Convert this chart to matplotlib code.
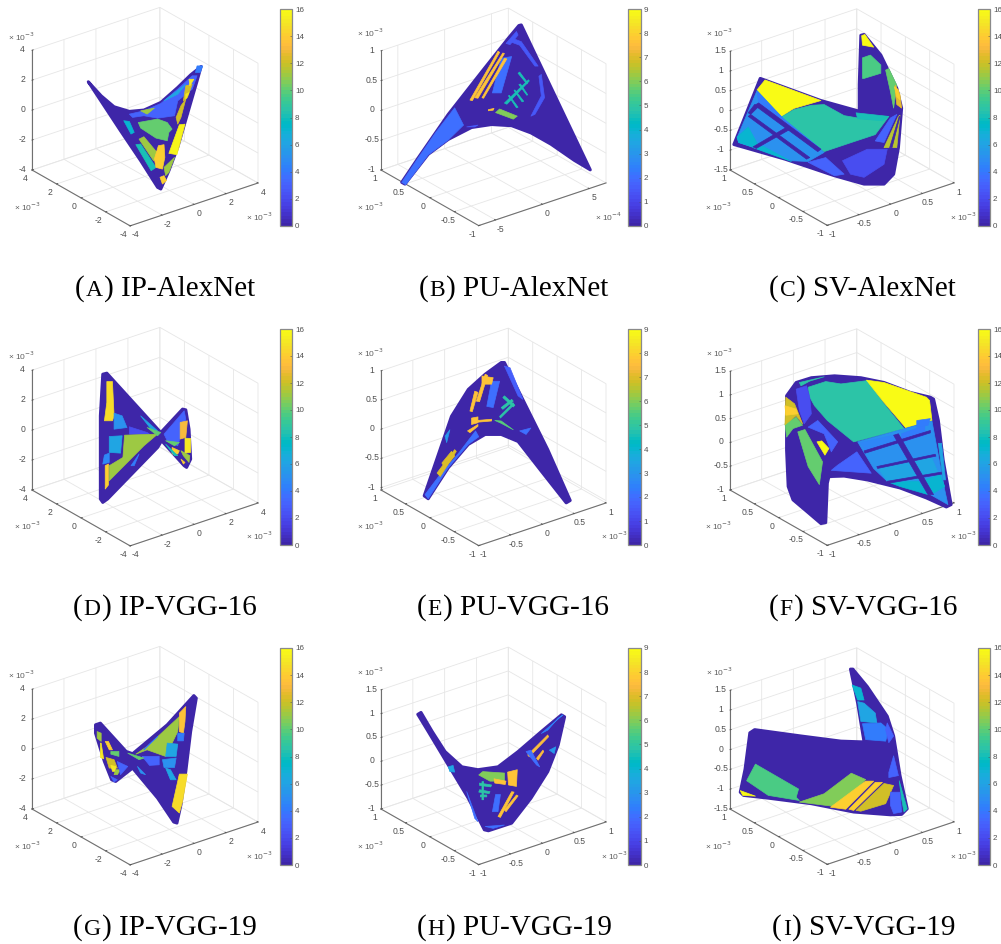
import matplotlib
matplotlib.use('Agg')
import matplotlib.pyplot as plt
from matplotlib.cm import ScalarMappable
from matplotlib.colors import ListedColormap, Normalize
from mpl_toolkits.mplot3d import proj3d
from mpl_toolkits.mplot3d.art3d import Poly3DCollection

plt.rcParams['font.family'] = ['Liberation Sans', 'DejaVu Sans']

WIDTH, HEIGHT = 1001, 944

PARULA = ListedColormap([
    (.2422, .1504, .6603), (.2504, .1650, .7076), (.2578, .1818, .7511), (.2647, .1978, .7952),
    (.2706, .2147, .8364), (.2751, .2342, .8710), (.2783, .2559, .8991), (.2803, .2782, .9221),
    (.2813, .3006, .9414), (.2810, .3228, .9579), (.2795, .3447, .9717), (.2760, .3667, .9829),
    (.2699, .3892, .9906), (.2602, .4123, .9952), (.2440, .4358, .9988), (.2206, .4603, .9973),
    (.1963, .4847, .9892), (.1834, .5074, .9798), (.1786, .5289, .9682), (.1764, .5499, .9520),
    (.1687, .5703, .9359), (.1540, .5902, .9218), (.1460, .6091, .9079), (.1380, .6276, .8973),
    (.1248, .6459, .8883), (.1113, .6635, .8763), (.0952, .6798, .8598), (.0689, .6948, .8394),
    (.0297, .7082, .8163), (.0036, .7203, .7917), (.0067, .7312, .7660), (.0433, .7411, .7394),
    (.0964, .7500, .7120), (.1408, .7584, .6842), (.1717, .7670, .6554), (.1938, .7758, .6251),
    (.2161, .7843, .5923), (.2470, .7918, .5567), (.2906, .7973, .5188), (.3406, .8008, .4789),
    (.3909, .8029, .4354), (.4456, .8024, .3909), (.5044, .7993, .3480), (.5616, .7942, .3045),
    (.6174, .7876, .2612), (.6720, .7793, .2227), (.7242, .7698, .1910), (.7738, .7598, .1646),
    (.8203, .7498, .1535), (.8634, .7406, .1596), (.9035, .7330, .1774), (.9393, .7288, .2100),
    (.9728, .7298, .2394), (.9956, .7434, .2371), (.9970, .7659, .2199), (.9952, .7893, .2028),
    (.9892, .8136, .1885), (.9786, .8386, .1766), (.9676, .8639, .1643), (.9610, .8890, .1537),
    (.9597, .9135, .1423), (.9628, .9373, .1265), (.9691, .9606, .1064), (.9769, .9839, .0805),
])

# each region: class label, then (position across the view, z in 1e-3 units)
IP_ALEXNET = [
    (0, [(-.71, 2.36), (-.55, 1.42), (-.39, .69), (-.20, .38), (-.02, .47), (.19, .98), (.40, 1.98), (.56, 2.82),
         (.69, 3.38), (.64, 2.42), (.52, .20), (.40, -2.02), (.29, -3.58), (.19, -4.80), (.15, -4.69), (-.06, -2.91),
         (-.31, -.91)]),
    (3, [(-.20, .20), (-.02, .42), (.19, .91), (.40, 1.87), (.58, 2.76), (.64, 2.76), (.58, 1.87), (.40, 1.09),
         (.36, .09), (.15, -.07), (-.02, .09), (-.16, -.02)]),
    (7, [(-.27, -.24), (-.20, -.29), (-.14, -1.02), (-.18, -1.13)]),
    (10, [(-.09, -.36), (.15, -.13), (.27, -.36), (.33, -.80), (.29, -1.02), (.27, -1.58), (.13, -1.40), (-.06, -.73)]),
    (11, [(-.08, -1.47), (-.02, -1.31), (.16, -2.47), (.10, -2.91)]),
    (8, [(-.12, -1.84), (-.06, -1.80), (.13, -3.36), (.07, -3.58)]),
    (14, [(.16, -1.91), (.23, -1.84), (.24, -2.69), (.21, -3.47), (.13, -3.36), (.11, -2.80)]),
    (14, [(.18, -4.02), (.23, -3.91), (.26, -4.24), (.21, -4.47)]),
    (11, [(.23, -3.36), (.36, -2.69), (.29, -3.69), (.25, -3.91)]),
    (15.5, [(.42, -.51), (.49, -.47), (.39, -2.51), (.29, -2.42)]),
    (12, [(.44, .76), (.50, 1.20), (.44, -.02), (.40, -.47), (.38, -.02)]),
    (12, [(.50, 2.09), (.58, 2.2), (.52, 1.31), (.47, 1.09)]),
    (15, [(.54, 2.53), (.60, 2.53), (.55, 2.09)]),
    (15, [(.50, 1.53), (.54, 1.64), (.50, 1.20)]),
    (6, [(.23, 1.09), (.50, 2.2), (.40, 1.53)]),
    (11, [(-.06, .42), (.11, .60), (.02, .2)]),
    (4, [(.64, 3.42), (.71, 3.42), (.68, 2.98), (.62, 2.98)]),
]

PU_ALEXNET = [
    (0, [(.34, 1.55), (1.20, -.88), (1.00, -.72), (.71, -.45), (.46, -.26), (.22, -.14), (-.03, -.12), (-.28, -.17),
         (-.57, -.37), (-.82, -.62), (-1.11, -1.12), (-1.15, -1.09), (-.94, -.67), (-.57, .05), (-.15, .77),
         (.18, 1.33), (.31, 1.54)]),
    (2, [(-.49, .16), (-.38, -.13), (-.57, -.38), (-.82, -.63), (-1.10, -1.13), (-1.15, -1.09), (-.94, -.67),
         (-.73, -.26)]),
    (2, [(.09, .99), (.22, 1.02), (.09, .41), (-.02, .41)]),
    (6, [(.07, .14), (.29, .02), (.24, -.03), (.02, .08)]),
    (7.6, [(-.30, .29), (.05, 1.11), (.07, 1.09), (-.27, .28)]),
    (7.6, [(-.24, .33), (.11, 1.08), (.13, 1.07), (-.20, .32)]),
    (7.6, [(-.15, .33), (.13, .99), (.16, .98), (-.13, .32)]),
    (4.6, [(.13, .24), (.43, .63), (.44, .61), (.16, .22)]),
    (4.6, [(.18, .36), (.19, .37), (.30, .17), (.28, .16)]),
    (4.6, [(.25, .45), (.26, .46), (.37, .27), (.35, .26)]),
    (4.6, [(.31, .55), (.33, .56), (.42, .38), (.41, .37)]),
    (4.6, [(.30, .74), (.32, .76), (.42, .58), (.41, .56)]),
    (1.5, [(.22, 1.33), (.34, 1.27), (.55, .86), (.51, .86), (.32, 1.21), (.20, 1.27)]),
    (1.5, [(.59, .72), (.63, .33), (.51, .05), (.46, .02), (.59, .36), (.56, .69)]),
    (1.5, [(-.34, -.16), (-.20, -.13), (-.24, -.16)]),
    (1.5, [(.15, 1.24), (.28, 1.44), (.30, 1.38), (.20, 1.22)]),
    (7.6, [(-.07, .13), (0, .15), (-.01, .12), (-.07, .11)]),
]

SV_ALEXNET = [
    (0, [(-1.03, .99), (-.27, .43), (.21, .16), (.21, .83), (.23, 2.08), (.27, 2.10), (.48, 1.58), (.68, .74),
         (.74, .24), (.70, -.76), (.64, -1.43), (.52, -1.68), (.27, -1.68), (-.10, -1.47), (-.72, -1.05),
         (-1.36, -.68)]),
    (15.8, [(-.97, .95), (-.27, .43), (-.61, .23), (-.77, .02), (-1.07, .70)]),
    (8.5, [(-.76, .02), (-.61, .20), (-.39, .31), (-.23, .33), (.02, .05), (.31, -.05), (.58, .03), (.41, -.43),
           (.14, -.61), (-.23, -.86), (-.52, -.59)]),
    (15.8, [(.24, 2.07), (.28, 2.10), (.39, 1.78), (.25, 1.83)]),
    (9.5, [(.25, 1.51), (.35, 1.58), (.48, 1.33), (.48, 1.12), (.27, .99), (.25, .99)]),
    (10, [(.54, 1.20), (.58, 1.24), (.68, .82), (.64, .24), (.60, .66)]),
    (12.5, [(.66, .82), (.72, .58), (.74, .24), (.68, .33), (.66, .66)]),
    (14, [(.65, .78), (.70, .70), (.72, .45), (.68, .53)]),
    (11.5, [(.52, -.76), (.70, .03), (.72, .06), (.68, -.76)]),
    (0, [(.59, -.76), (.71, .03), (.72, .03), (.62, -.76)]),
    (5, [(-1.07, .68), (-.74, -.03), (-.23, -.88), (-.43, -1.11), (-.64, -1.09), (-1.05, -.80), (-1.30, -.63),
         (-1.32, -.51), (-1.18, .16)]),
    (7, [(-1.30, -.63), (-1.32, -.49), (-1.18, -.24), (-1.06, -.68), (-1.10, -.76)]),
    (7, [(-.99, -.73), (-.64, -1.11), (-1.12, -.76)]),
    (4, [(-1.07, .66), (-.74, -.03), (-.27, -.80), (-1.05, .37)]),
    (0, [(-1.10, .31), (-1.05, .37), (-.27, -.80), (-.31, -.86)]),
    (0, [(-1.18, .03), (-1.15, .08), (-.41, -1.01), (-.45, -1.05)]),
    (0, [(-1.12, -.74), (-.68, -.22), (-.66, -.30), (-1.08, -.78)]),
    (0, [(-1.10, .33), (-1.18, .12), (-1.15, .08), (-1.05, .28)]),
    (3, [(-.43, -1.13), (-.21, -1.01), (.02, -1.43), (-.10, -1.47)]),
    (2, [(0, -1.09), (.31, -.80), (.56, -.80), (.52, -1.18), (.27, -1.51), (.10, -1.43)]),
    (8, [(.17, .12), (.58, .03), (.50, -.08), (.19, -.03)]),
    (3, [(.41, -.59), (.60, -.01), (.68, .08), (.52, -.63)]),
]

IP_VGG16 = [
    (0, [(-.53, 4.20), (-.48, 4.27), (.19, .31), (.46, 1.87), (.50, 1.82), (.54, .53), (.56, -1.47), (.51, -2.02),
         (.48, -1.91), (.20, -.24), (.15, -.69), (-.47, -4.13), (-.53, -4.36), (-.56, -4.13), (-.56, 1.42)]),
    (14.5, [(-.48, 3.71), (-.41, 3.71), (-.39, 1.42), (-.41, 1.09), (-.51, 1.09), (-.48, 2.31)]),
    (5, [(-.39, 1.60), (-.29, 1.42), (-.23, .64), (-.39, .53)]),
    (2, [(-.20, .69), (.02, .31), (.05, .2), (-.20, .2)]),
    (6, [(-.45, .04), (-.29, .09), (-.31, -1.07), (-.45, -1.02)]),
    (4.5, [(-.51, -1.2), (-.45, -1.07), (-.45, -1.69), (-.53, -1.8)]),
    (11, [(-.26, .13), (.15, .2), (-.02, -.58), (-.45, -2.91), (-.45, -1.91), (-.28, -1.36)]),
    (14, [(-.50, -1.91), (-.46, -1.8), (-.46, -3.2), (-.50, -3.47)]),
    (4, [(-.18, -1.91), (-.08, -1.13), (-.14, -1.91)]),
    (6, [(-.06, 1.42), (.15, .42), (.07, .53)]),
    (10, [(.02, .64), (.19, .31), (.15, .09)]),
    (3, [(.23, .2), (.48, 1.76), (.50, 1.2), (.40, -.58), (.27, -.24)]),
    (13, [(.43, .98), (.52, 1.09), (.50, -.02), (.43, -.13)]),
    (15, [(.49, -.07), (.56, -.09), (.56, -1.02), (.49, -1.07)]),
    (14, [(.33, -.69), (.42, -.91), (.40, -1.13), (.33, -1.13)]),
    (10, [(.25, -.24), (.42, -.36), (.36, -.58)]),
    (8, [(.25, -.47), (.40, -1.24), (.36, -1.24)]),
    (11, [(.44, -.91), (.55, -1.24), (.54, -1.69), (.47, -1.24)]),
    (14, [(.44, -1.47), (.49, -1.69), (.47, -1.8)]),
]

PU_VGG16 = [
    (0, [(.09, 1.26), (.13, 1.26), (.38, .57), (.67, -.23), (.95, -1.10), (.90, -1.14), (.59, -.60), (.30, -.09),
         (.09, .03), (-.11, .03), (-.32, -.14), (-.57, -.54), (-.82, -1.07), (-.87, -1.02), (-.73, -.46), (-.53, .34),
         (-.32, .80), (-.11, 1.06)]),
    (2, [(-.86, -1.00), (-.82, -1.07), (-.57, -.54), (-.32, -.14), (-.19, -.01), (-.23, .09), (-.44, -.29),
         (-.69, -.69)]),
    (2, [(-.03, .94), (.07, .94), (-.01, .49), (-.09, .51)]),
    (7.6, [(-.30, .43), (-.24, .77), (-.20, .75), (-.27, .42)]),
    (7.6, [(-.22, .60), (-.11, 1.06), (-.08, 1.04), (-.18, .59)]),
    (7.6, [(-.15, 1.03), (-.01, 1.0), (-.03, .89), (-.15, .89)]),
    (7.7, [(-.28, .31), (-.20, .33), (-.20, .23), (-.28, .20)]),
    (7.7, [(-.33, .09), (-.20, .20), (-.20, .17), (-.30, .06)]),
    (7.7, [(-.20, .27), (-.03, .29), (-.03, .26), (-.20, .24)]),
    (4.8, [(.07, .34), (.24, .57), (.25, .54), (.08, .31)]),
    (4.8, [(.09, .49), (.22, .63), (.24, .60), (.11, .46)]),
    (4.8, [(.13, .69), (.26, .53), (.24, .50), (.11, .66)]),
    (5.5, [(.01, .27), (.09, .26), (.24, .11), (.09, .22)]),
    (7, [(-.71, -.63), (-.49, -.23), (-.47, -.26), (-.67, -.69)]),
    (7, [(-.65, -.46), (-.53, -.26), (-.49, -.34), (-.61, -.54)]),
    (1.6, [(.13, 1.2), (.20, 1.17), (.36, .63), (.30, .69)]),
    (3, [(-.61, 0), (-.55, .11), (-.59, -.11)]),
    (2, [(.32, .09), (.46, .14), (.40, .03)]),
]

SV_VGG16 = [
    (0, [(-.70, 1.13), (-.58, 1.41), (-.39, 1.51), (-.10, 1.55), (.23, 1.51), (.52, 1.41), (.85, 1.20), (1.10, 1.10),
         (1.14, 1.06), (1.20, .61), (1.26, -.22), (1.36, -1.16), (1.30, -1.21), (1.05, -1.02), (.72, -.81), (.31, -.64),
         (.02, -.56), (-.17, -.57), (-.19, -.71), (-.21, -1.54), (-.27, -1.56), (-.43, -1.33), (-.62, -1.06),
         (-.68, -.78), (-.70, -.01)]),
    (8.5, [(-.43, 1.31), (-.21, 1.43), (-.02, 1.38), (.31, 1.45), (.52, .96), (.77, .44), (.14, .16), (-.19, .61),
           (-.35, .92), (-.41, 1.10)]),
    (8.5, [(-.54, 1.41), (-.23, 1.53), (-.41, 1.44), (-.52, 1.34)]),
    (15.8, [(.30, 1.46), (.52, 1.41), (1.05, 1.10), (1.09, 1.03), (1.12, .61), (.79, .46), (.52, .99)]),
    (5, [(.19, .16), (1.12, .60), (1.28, -.85), (1.32, -1.16), (1.10, -.95), (.56, -.67), (.39, -.40)]),
    (4.5, [(.21, .14), (.64, .30), (.69, .14), (.30, -.03)]),
    (6, [(.45, -.40), (.83, -.27), (.95, -.64), (.56, -.67)]),
    (4, [(.74, .33), (1.03, .51), (1.03, .30), (.74, .16)]),
    (6, [(.85, -.28), (1.11, -.15), (1.20, -.50), (1.01, -.60)]),
    (7, [(.58, -.69), (.95, -.67), (1.07, -.95), (.72, -.78)]),
    (7, [(1.03, -.64), (1.22, -.53), (1.28, -.78), (1.14, -.92)]),
    (4, [(.93, .61), (1.10, .65), (1.07, .51), (.93, .47)]),
    (0, [(.64, .30), (.70, .33), (1.14, -.95), (1.07, -.95)]),
    (0, [(.27, -.03), (1.10, .40), (1.10, .35), (.28, -.08)]),
    (0, [(.43, -.36), (1.16, -.10), (1.17, -.14), (.44, -.40)]),
    (0, [(.56, -.67), (1.26, -.47), (1.27, -.51), (.58, -.71)]),
    (3, [(.18, -.05), (.36, -.50), (-.14, -.44), (-.06, -.33)]),
    (3, [(-.43, .47), (-.31, .61), (-.06, .16), (-.14, -.05), (-.23, .33)]),
    (16, [(-.32, .16), (-.26, .18), (-.17, .02), (-.22, -.12)]),
    (10, [(-.56, .37), (-.47, .42), (-.25, -.26), (-.29, -.74), (-.43, -.36)]),
    (10, [(-.72, .54), (-.58, .68), (-.50, .51), (-.62, .44), (-.70, .26)]),
    (12, [(-.71, 1.10), (-.60, .96), (-.50, .54), (-.58, .71), (-.72, .52)]),
    (14, [(-.72, .92), (-.58, .85), (-.56, .75), (-.71, .72)]),
    (2, [(-.58, 1.27), (-.45, 1.34), (-.41, 1.10), (-.39, .75), (-.48, .54), (-.54, .82)]),
    (6, [(1.20, .13), (1.24, .13), (1.29, -.64), (1.26, -.64)]),
]

IP_VGG19 = [
    (0, [(-.62, 2.09), (-.56, 2.20), (-.24, .31), (-.16, .16), (.27, 2.09), (.60, 4.04), (.63, 3.87), (.56, 1.64),
         (.50, -1.02), (.44, -3.24), (.39, -4.47), (.35, -4.40), (.15, -2.80), (-.16, -.80), (-.37, -1.69),
         (-.42, -1.58), (-.51, -.36), (-.62, 1.53)]),
    (11, [(-.12, .13), (.02, .64), (.42, 2.64), (.40, 1.64), (.25, -.02), (.02, .42)]),
    (13.5, [(.42, 2.87), (.50, 3.31), (.49, 2.31), (.47, 1.53), (.42, 1.64)]),
    (4, [(.40, 1.53), (.48, 1.53), (.47, 1.02), (.40, 1.02)]),
    (6, [(.27, .87), (.40, .80), (.38, -.02), (.25, -.02)]),
    (5, [(.21, -.24), (.38, -.13), (.36, -.76), (.23, -.76)]),
    (3, [(-.04, -.02), (.17, -.02), (.17, -.58), (.05, -.62)]),
    (6, [(.25, -.80), (.31, -.91), (.38, -1.58), (.31, -1.58)]),
    (14.5, [(.42, -1.20), (.52, -1.20), (.46, -3.02), (.42, -3.80), (.33, -3.36)]),
    (10, [(-.22, .2), (-.02, -.13), (-.08, -.24)]),
    (5, [(-.10, -.69), (0, -1.24), (-.06, -1.13)]),
    (4, [(-.02, .42), (.15, 1.31), (.02, .64)]),
    (11, [(-.60, 1.64), (-.55, 1.53), (-.55, .98), (-.60, 1.2)]),
    (15, [(-.56, .87), (-.55, .87), (-.52, -.18), (-.56, -.09)]),
    (14, [(-.50, .98), (-.46, .98), (-.41, .42), (-.45, .42)]),
    (12, [(-.49, -.09), (-.39, -.24), (-.35, -.80), (-.45, -.80)]),
    (10, [(-.43, .31), (-.33, .31), (-.33, -.02), (-.43, .13)]),
    (15, [(-.43, -.62), (-.37, -.69), (-.37, -1.02), (-.41, -1.02)]),
    (11, [(-.37, -.91), (-.31, -.91), (-.35, -1.24), (-.39, -1.24)]),
    (3, [(-.35, -.36), (-.22, -.69), (-.31, -1.24)]),
    (3, [(-.43, -1.36), (-.35, -1.58), (-.39, -1.73)]),
]

PU_VGG19 = [
    (0, [(-.95, 1.13), (-.91, 1.17), (-.77, .77), (-.61, .35), (-.40, .03), (-.20, -.03), (.05, .03), (.30, .35),
         (.59, .77), (.84, 1.12), (.88, 1.08), (.80, .49), (.67, -.07), (.46, -.63), (.22, -1.15), (-.07, -1.31),
         (-.12, -1.29), (-.32, -.63), (-.57, .07), (-.82, .77)]),
    (6, [(-.19, -.14), (-.14, -.07), (.13, -.10), (.13, -.27), (-.05, -.27)]),
    (7.7, [(0, -.22), (.15, -.27), (.14, -.34), (.01, -.31)]),
    (7.7, [(.17, -.08), (.29, -.03), (.28, -.38), (.18, -.35)]),
    (3.5, [(-.57, .03), (-.51, .06), (-.49, -.08), (-.55, -.07)]),
    (4.8, [(-.18, -.31), (-.03, -.35), (-.04, -.39), (-.18, -.36)]),
    (4.8, [(-.18, -.45), (-.05, -.49), (-.06, -.53), (-.19, -.50)]),
    (4.8, [(-.17, -.56), (-.09, -.56), (-.09, -.60), (-.17, -.60)]),
    (4.8, [(-.15, -.28), (-.13, -.28), (-.13, -.66), (-.15, -.66)]),
    (2, [(.02, -.55), (.08, -.55), (.05, -.91), (-.02, -.91)]),
    (7.7, [(.05, -1.01), (.22, -.49), (.25, -.50), (.08, -1.03)]),
    (7.7, [(.13, -.87), (.28, -.56), (.30, -.58), (.15, -.91)]),
    (2, [(-.11, -1.22), (.13, -1.19), (-.01, -1.26)]),
    (2, [(-.34, -.49), (-.20, -1.12), (-.24, -1.05)]),
    (2.5, [(.59, .73), (.86, 1.12), (.80, 1.05), (.67, .80)]),
    (3, [(.69, .38), (.77, .45), (.75, .31)]),
    (7.5, [(.42, .28), (.67, .70), (.68, .66), (.44, .24)]),
    (7.5, [(.53, .21), (.61, .38), (.62, .35), (.55, .17)]),
    (2, [(.40, .35), (.46, .38), (.57, .03), (.53, .07)]),
]

SV_VGG19 = [
    (0, [(.10, 2.21), (.13, 2.21), (.31, 1.77), (.56, 1.02), (.64, .52), (.72, -.48), (.81, -1.32), (.74, -1.46),
         (.60, -1.47), (.14, -1.40), (-.39, -1.19), (-.93, -1.05), (-1.24, -.98), (-1.28, -.90), (-1.22, -.32),
         (-1.16, .60), (-1.10, .68), (-.52, .52), (-.02, .39), (.27, .37), (.19, 1.35)]),
    (7, [(.12, 1.81), (.23, 1.73), (.27, 1.43), (.19, 1.43)]),
    (6, [(.19, 1.39), (.27, 1.35), (.41, 1.10), (.43, .85), (.23, .89)]),
    (4, [(.25, .83), (.48, .85), (.58, .68), (.54, .39), (.29, .43)]),
    (3, [(.56, .85), (.64, .52), (.58, .35), (.54, .68)]),
    (9.5, [(-1.09, -.19), (-.55, -.82), (-.58, -1.03), (-.54, -1.11), (-.93, -.98), (-1.20, -.61)]),
    (10.5, [(.11, -.42), (.29, -.58), (-.02, -1.28), (-.54, -1.15), (-.23, -.94)]),
    (14, [(.29, -.62), (.39, -.62), (.04, -1.33), (-.15, -1.28)]),
    (14, [(.41, -.65), (.50, -.65), (.14, -1.36), (.08, -1.33)]),
    (12, [(.52, -.68), (.64, -.73), (.54, -1.19), (.23, -1.38), (.17, -1.36)]),
    (16, [(-1.28, -.86), (-1.09, -1.0), (-1.25, -.98)]),
    (3, [(.64, .02), (.70, -.48), (.58, -.53), (.58, -.40)]),
    (8, [(.71, -.61), (.81, -1.32), (.77, -1.40), (.74, -1.07)]),
    (3, [(.60, -.90), (.72, -.90), (.74, -1.40), (.64, -1.44), (.60, -1.23)]),
]

# panel letters and names
LETTERS = ['A', 'B', 'C', 'D', 'E', 'F', 'G', 'H', 'I']
NAMES = ['IP-AlexNet', 'PU-AlexNet', 'SV-AlexNet', 'IP-VGG-16', 'PU-VGG-16', 'SV-VGG-16',
         'IP-VGG-19', 'PU-VGG-19', 'SV-VGG-19']
REGIONS = [IP_ALEXNET, PU_ALEXNET, SV_ALEXNET, IP_VGG16, PU_VGG16, SV_VGG16, IP_VGG19, PU_VGG19, SV_VGG19]
CLASS_MAX = [16, 9, 16, 16, 9, 16, 16, 9, 16]

TICKS_4 = [-4, -2, 0, 2, 4]
TICKS_1 = [-1, -.5, 0, .5, 1]
TICKS_15 = [-1.5, -1, -.5, 0, .5, 1, 1.5]
TICKS_1_15 = [-1, -.5, 0, .5, 1, 1.5]
X_LIMS = [4, .68, 1, 4, 1, 1, 4, 1, 1]
Y_LIMS = [4, 1, 1, 4, 1, 1, 4, 1, 1]
Z_LIMS = [(-4, 4), (-1, 1), (-1.5, 1.5), (-4, 4), (-1.04, 1), (-1, 1.5), (-4, 4), (-1, 1.5), (-1.5, 1.5)]
X_TICKS = [TICKS_4, [-.5, 0, .5], TICKS_1, TICKS_4, TICKS_1, TICKS_1, TICKS_4, TICKS_1, TICKS_1]
Y_TICKS = [TICKS_4, TICKS_1, TICKS_1, TICKS_4, TICKS_1, TICKS_1, TICKS_4, TICKS_1, TICKS_1]
Z_TICKS = [TICKS_4, TICKS_1, TICKS_15, TICKS_4, TICKS_1, TICKS_1_15, TICKS_4, TICKS_1_15, TICKS_15]
X_TICK_LABELS = [None, ['-5', '0', '5'], None, None, None, None, None, None, None]
X_EXPONENT = ['-3', '-4', '-3', '-3', '-3', '-3', '-3', '-3', '-3']

ELEV, AZIM = 25.9, -127.5
DIR_X, DIR_Y = .793, .609

# pixel layout of the three columns and rows
COL_LEFT = [32, 381, 730]
COL_RIGHT = [258, 606, 954]
COL_BAR = [279.5, 628, 977.5]
ROW_BASE = [170, 490, 809]
ROW_BAR = [(9, 226), (329, 545), (648, 865)]
ROW_CAPTION = [296, 615, 935]
CAPTION_LEFT = [75, 419, 769, 73, 417, 769, 73, 417, 772]
# exponent text spots as (x, y) pixels within a 334 wide panel
EXP_Z = [(8, 37), (23, 33), (39, 33), (8, 41), (23, 38), (39, 38), (8, 41), (23, 38), (39, 38)]
EXP_Y = [(14, 207), (23, 207), (38, 207), (14, 211), (23, 211), (38, 211), (14, 212), (23, 212), (38, 212)]
EXP_X = [(246, 217), (261, 217), (283, 217), (246, 221), (267, 221), (283, 221), (246, 222), (267, 222), (283, 222)]
PANEL_X = [0, 334, 667]
PANEL_Y = [0, 315, 634]


def px_text(fig, x, y, s, **kwargs):
    return fig.text(x / WIDTH, 1 - y / HEIGHT, s, **kwargs)


def fit_box(ax, left, right, base):
    # the box corners are measured once, then the square axes is scaled and shifted on them
    xlo, xhi = ax.get_xlim()
    ylo, yhi = ax.get_ylim()
    zlo = ax.get_zlim()[0]

    def corners():
        ax.apply_aspect()
        m = ax.get_proj()
        a = proj3d.proj_transform(xlo, yhi, zlo, m)
        b = proj3d.proj_transform(xhi, ylo, zlo, m)
        return ax.transData.transform([a[:2], b[:2]])

    side = 300
    ax.set_position([.3, .3, side / WIDTH, side / HEIGHT])
    c = corners()
    side = side * (right - left) / (c[1][0] - c[0][0])
    ax.set_position([.3, .3, side / WIDTH, side / HEIGHT])
    c = corners()
    dx = left - c[0][0]
    dy = (HEIGHT - base) - c[0][1]
    ax.set_position([.3 + dx / WIDTH, .3 + dy / HEIGHT, side / WIDTH, side / HEIGHT])


def style_axes(ax):
    ax.set_facecolor('none')
    for axis in (ax.xaxis, ax.yaxis, ax.zaxis):
        axis.set_pane_color((1, 1, 1, 0))
        axis.pane.set_edgecolor('#dcdcdc')
        axis.pane.set_linewidth(.7)
        axis.line.set_color('#707070')
        axis.line.set_linewidth(.8)
        axis._axinfo['grid'].update(color='#e6e6e6', linewidth=.6)
        axis._axinfo['tick'].update(inward_factor=0, outward_factor=.12, linewidth={True: .6, False: .4})
        for tick in axis.get_major_ticks():
            tick.label1.set_va('center')
    ax.tick_params(labelsize=6.2, colors='#505050', pad=-3, length=0)
    ax.tick_params(axis='z', pad=-4)


def draw_regions(ax, regions, rx, ry, vmax):
    for order, (cls, points) in enumerate(regions):
        verts = [(n * DIR_X * rx, -n * DIR_Y * ry, z) for n, z in points]
        colour = PARULA(cls / vmax)
        width = 2.2 if order == 0 else .5
        poly = Poly3DCollection([verts], facecolor=colour, edgecolor=colour, linewidth=width,
                                joinstyle='round', zorder=order + 10)
        ax.add_collection3d(poly, autolim=False)
        poly.set_clip_on(False)


def draw_colorbar(fig, x, top, bottom, vmax):
    cax = fig.add_axes([x / WIDTH, 1 - bottom / HEIGHT, 12.7 / WIDTH, (bottom - top) / HEIGHT])
    step = 1 if vmax == 9 else 2
    cbar = fig.colorbar(ScalarMappable(Normalize(0, vmax), PARULA), cax=cax, ticks=range(0, vmax + 1, step))
    cbar.ax.tick_params(labelsize=5.8, colors='#505050', length=1.2, width=.4, direction='in', pad=2)
    cbar.outline.set_edgecolor('#8a8a8a')
    cbar.outline.set_linewidth(.9)


def draw_caption(fig, x, y, letter, name):
    renderer = fig.canvas.get_renderer()
    font = dict(family='Liberation Serif', color='black', va='baseline')
    opening = px_text(fig, x, y, '(', fontsize=21, **font)
    x = opening.get_window_extent(renderer).x1 + 1
    small = px_text(fig, x, y, letter, fontsize=17, **font)
    x = small.get_window_extent(renderer).x1 + 1
    px_text(fig, x, y, ') ' + name, fontsize=21, **font)


fig = plt.figure(figsize=(WIDTH / 100, HEIGHT / 100), dpi=100)

for i, name in enumerate(NAMES):
    row, col = i // 3, i % 3
    ax = fig.add_axes([.3, .3, .3, .3], projection='3d', proj_type='ortho')
    ax.computed_zorder = False
    ax.view_init(elev=ELEV, azim=AZIM)
    ax.set_box_aspect((1, 1, .826))
    ax.set_xlim(-X_LIMS[i], X_LIMS[i], view_margin=0)
    ax.set_ylim(-Y_LIMS[i], Y_LIMS[i], view_margin=0)
    ax.set_zlim(*Z_LIMS[i], view_margin=0)
    ax.set_xticks(X_TICKS[i])
    ax.set_yticks(Y_TICKS[i])
    ax.set_zticks(Z_TICKS[i])
    ax.set_xticklabels(X_TICK_LABELS[i] or [f'{v:g}' for v in X_TICKS[i]])
    ax.set_yticklabels([f'{v:g}' for v in Y_TICKS[i]])
    ax.set_zticklabels([f'{v:g}' for v in Z_TICKS[i]])
    ax.zaxis.set_ticks_position('upper')
    style_axes(ax)
    draw_regions(ax, REGIONS[i], X_LIMS[i], Y_LIMS[i], CLASS_MAX[i])
    fit_box(ax, COL_LEFT[col], COL_RIGHT[col], ROW_BASE[row])

    draw_colorbar(fig, COL_BAR[col], ROW_BAR[row][0], ROW_BAR[row][1], CLASS_MAX[i])
    draw_caption(fig, CAPTION_LEFT[i], ROW_CAPTION[row], LETTERS[i], name)

    exp_font = dict(fontsize=6, color='#606060', va='center')
    for (ex, ey), power in zip((EXP_Z[i], EXP_Y[i], EXP_X[i]), ('-3', '-3', X_EXPONENT[i])):
        px_text(fig, PANEL_X[col] + ex, PANEL_Y[row] + ey, '\u00d7 10$^{' + power + '}$', **exp_font)

fig.savefig('out.png', dpi=100)
